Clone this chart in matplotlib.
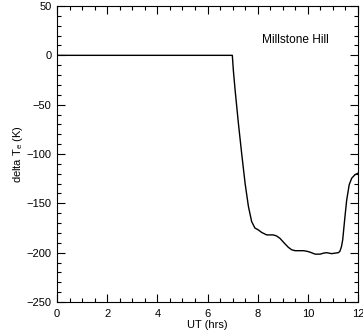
import matplotlib
matplotlib.use("Agg")
import matplotlib.pyplot as plt
from matplotlib.ticker import MultipleLocator

plt.rcParams['font.family'] = ['Liberation Sans', 'DejaVu Sans']

ut = [0.0, 1.0, 2.0, 3.0, 4.0, 5.0, 6.0, 6.99, 7.03, 7.10, 7.23, 7.36, 7.50, 7.63, 7.76, 7.89,
      8.03, 8.16, 8.36, 8.62, 8.75, 8.89, 9.05, 9.22, 9.35, 9.49, 9.65, 9.82, 9.95, 10.09,
      10.29, 10.49, 10.62, 10.75, 10.95, 11.08, 11.22, 11.28, 11.34, 11.39, 11.48, 11.55,
      11.65, 11.75, 11.88, 12.0]
delta_te = [0.0, 0.0, 0.0, 0.0, 0.0, 0.0, 0.0, 0.0, -15.0, -35.0, -68.5, -99.0, -130.0, -153.0, -168.5, -175.0,
            -177.0, -179.5, -182.0, -182.0, -183.0, -185.5, -190.0, -194.5, -197.0, -198.0, -198.0, -198.0, -198.5, -199.5,
            -201.5, -201.5, -200.5, -200.0, -201.0, -200.5, -200.0, -198.5, -194.0, -187.0, -163.5, -146.5,
            -131.0, -124.5, -121.0, -119.5]

fig = plt.figure(figsize=(3.63, 3.32), dpi=100)
ax = fig.add_axes([57/363, 1 - 302/332, 301/363, 296/332])
ax.plot(ut, delta_te, color='black', lw=1.0)
ax.set_xlim(0, 12)
ax.set_ylim(-250, 50)
ax.xaxis.set_major_locator(MultipleLocator(2))
ax.xaxis.set_minor_locator(MultipleLocator(0.5))
ax.yaxis.set_major_locator(MultipleLocator(50))
ax.yaxis.set_minor_locator(MultipleLocator(10))
ax.tick_params(which='both', direction='in', top=True, right=True, labelsize=8, width=0.8)
ax.tick_params(which='major', length=6)
ax.tick_params(axis='y', which='major', pad=4)
ax.tick_params(axis='x', which='major', pad=5)
ax.tick_params(which='minor', length=3)
for s in ax.spines.values():
    s.set_linewidth(0.8)
ax.set_xlabel('UT (hrs)', fontsize=8, labelpad=1)
ax.set_ylabel('delta T$_\\mathregular{e}$ (K)', fontsize=8, labelpad=1)
ax.text(0.68, 0.885, 'Millstone Hill', transform=ax.transAxes, fontsize=8.6, ha='left', va='center')
fig.savefig('out.png', dpi=100)
